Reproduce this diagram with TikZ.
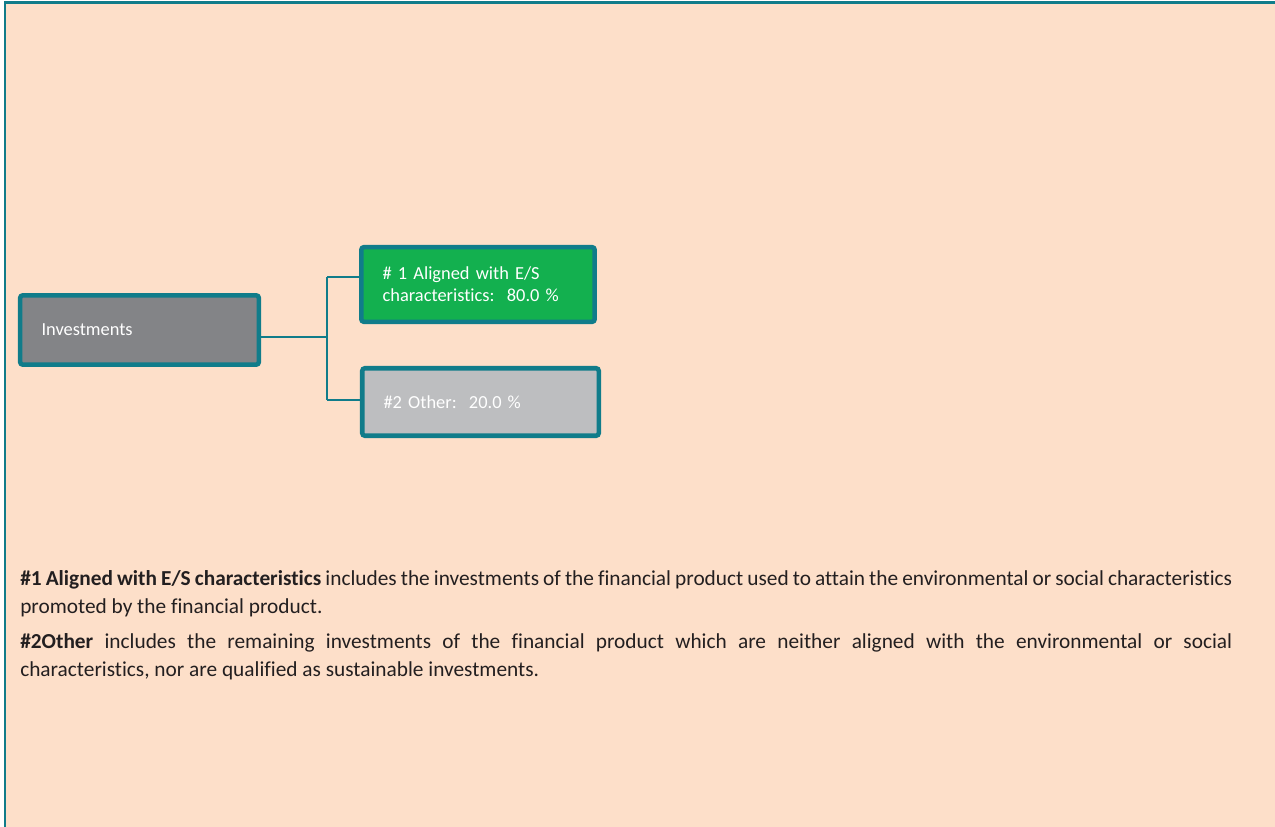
\documentclass[tikz,border=0pt]{standalone}
\usepackage{fontspec}
\setmainfont{Carlito}[Ligatures=NoCommon]
\usepackage{tikz}
\usetikzlibrary{positioning}
\definecolor{peach}{HTML}{FDDFC9}
\definecolor{esteal}{HTML}{107C8A}
\definecolor{esgreen}{HTML}{13B04F}
\definecolor{invgray}{HTML}{838487}
\definecolor{othergray}{HTML}{BDBEC0}
\definecolor{bodytext}{HTML}{231F20}
\tikzset{
  boxbase/.style={draw=esteal, line width=3.4pt, rounded corners=2pt, text=white, align=left, inner xsep=16pt, inner ysep=0pt, font=\fontsize{13.8}{16.5}\selectfont},
  invbox/.style={boxbase, fill=invgray, text width=147pt, minimum height=52pt},
  alignbox/.style={boxbase, fill=esgreen, text width=143pt, minimum height=56pt},
  otherbox/.style={boxbase, fill=othergray, text width=145.4pt, minimum height=50.6pt},
  link/.style={draw=esteal, line width=1.5pt},
  frameline/.style={draw=esteal, line width=2.2pt},
  defnote/.style={inner sep=0pt, text width=909pt, align=justify, text=bodytext, font=\fontsize{16}{21}\selectfont}
}

\begin{document}
\begin{tikzpicture}[x=0.75pt, y=-0.75pt]
  \useasboundingbox (0,0) rectangle (1275,827);
  \fill[peach] (4,1) rectangle (1275,827);
  \draw[frameline] (4,2.7) -- (1275,2.7);
  \draw[frameline] (5,1) -- (5,827);
  \node[invbox] (inv) at (139.5,330) {Investments};
  \node[alignbox] (aligned) at (478,284.5) {\# 1 Aligned with E/S\\characteristics:~~80.0~\%};
  \node[otherbox] (other) at (480.5,402) {\#2 Other:~~20.0~\%};
  \coordinate (split) at (327,337);
  \coordinate (upper) at (327,277);
  \coordinate (lower) at (327,400);
  \draw[link] (inv.east |- split) -- (split);
  \draw[link] (upper) -- (lower);
  \draw[link] (upper) -- (aligned.west |- upper);
  \draw[link] (lower) -- (other.west |- lower);
  \node[defnote, anchor=north west] (def1) at (20,570) {\textbf{\#1 Aligned with E/S characteristics} includes the investments of the financial product used to attain the environmental or social characteristics\linebreak promoted by the financial product.};
  \node[defnote, below=12pt of def1.south west, anchor=north west] (def2) {\textbf{\#2Other} includes the remaining investments of the financial product which are neither aligned with the environmental or social\linebreak characteristics, nor are qualified as sustainable investments.};
\end{tikzpicture}
\end{document}
